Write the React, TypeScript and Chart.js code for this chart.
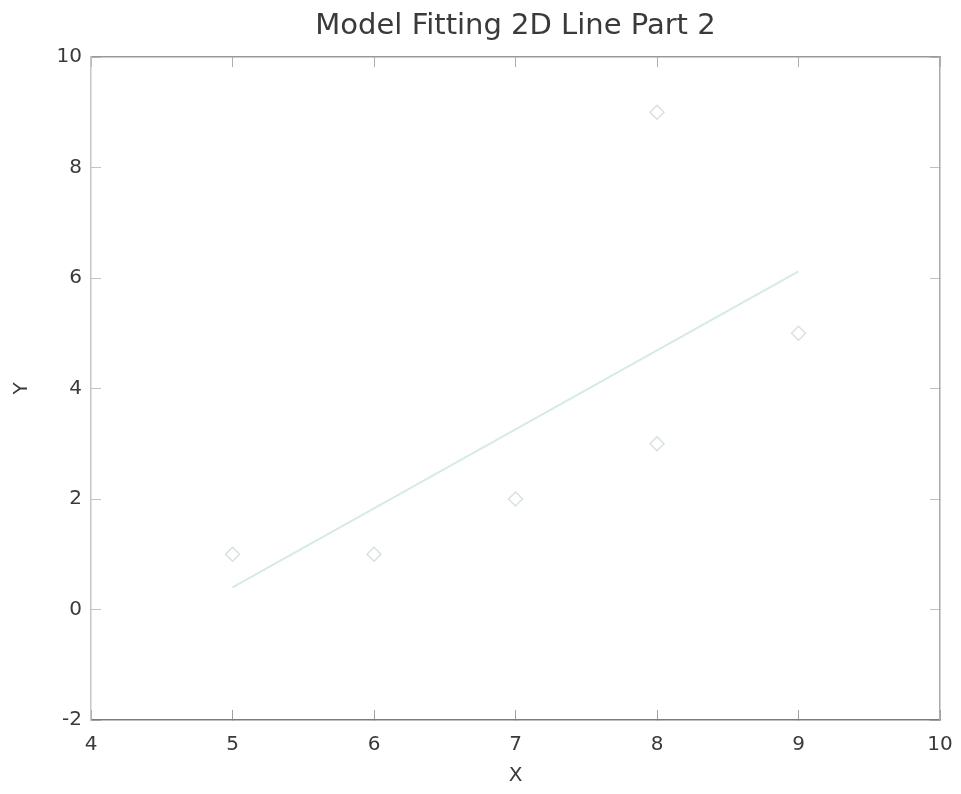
import React, { useEffect, useRef } from "react";
import { Chart, registerables } from "chart.js";

Chart.register(...registerables);

const chartTitle = "Model Fitting 2D Line Part 2";
const xLabel = "X";
const yLabel = "Y";

// observed data points
const pointX = [5, 6, 7, 8, 8, 9];
const pointY = [1, 1, 2, 3, 9, 5];

// fitted line end points
const fitX = [5, 9];
const fitY = [0.4, 6.12];

// axis ranges
const xMin = 4;
const xMax = 10;
const xStep = 1;
const yMin = -2;
const yMax = 10;
const yStep = 2;

const FONT = "'DejaVu Sans', 'Liberation Sans', Arial, sans-serif";
const TEXT = "#3a3a3a";

export default function App() {
  const ref = useRef<HTMLCanvasElement | null>(null);

  useEffect(() => {
    if (!ref.current) return;
    const points = pointX.map((x, i) => ({ x, y: pointY[i] }));
    const fit = fitX.map((x, i) => ({ x, y: fitY[i] }));
    const tl = -10;
    const noPad = (s: any) => {
      s.paddingLeft = 0;
      s.paddingRight = 0;
      s.paddingTop = 0;
      s.paddingBottom = 0;
    };
    const chart = new Chart(ref.current, {
      type: "scatter",
      data: {
        datasets: [
          {
            label: "fit",
            type: "line",
            data: fit,
            borderColor: "#d6ebe7",
            borderWidth: 2,
            pointRadius: 0,
            fill: false,
            xAxisID: "x",
            yAxisID: "y",
          },
          {
            label: "data",
            data: points,
            pointStyle: "rectRot",
            pointRadius: 7,
            borderWidth: 1.5,
            borderColor: "#d6e2e2",
            backgroundColor: "rgba(255,255,255,0)",
            xAxisID: "x",
            yAxisID: "y",
          },
        ],
      },
      options: {
        responsive: false,
        animation: false,
        layout: { padding: { left: 0, right: 21, top: 0, bottom: 0 } },
        plugins: {
          legend: { display: false },
          tooltip: { enabled: false },
          title: {
            display: true,
            fullSize: false,
            text: chartTitle,
            color: TEXT,
            font: { family: FONT, size: 29, weight: "normal", lineHeight: 1.2 },
            padding: { top: 9, bottom: 13.2 },
          },
        },
        scales: {
          x: {
            type: "linear",
            position: "bottom",
            min: xMin,
            max: xMax,
            afterFit: (s: any) => {
              s.height = 74;
              noPad(s);
            },
            ticks: {
              stepSize: xStep,
              color: TEXT,
              padding: 23,
              font: { family: FONT, size: 20 },
              maxRotation: 0,
            },
            grid: {
              drawOnChartArea: false,
              tickLength: tl,
              color: "#a0a0a0",
            },
            border: { display: true, color: "#7c7c7c", width: 1.5 },
            title: {
              display: true,
              text: xLabel,
              color: TEXT,
              font: { family: FONT, size: 20, lineHeight: 1.2 },
              padding: { top: 0, bottom: 6 },
            },
          },
          x2: {
            type: "linear",
            position: "top",
            min: xMin,
            max: xMax,
            afterFit: (s: any) => {
              s.height = 0;
              noPad(s);
            },
            ticks: { stepSize: xStep, display: false },
            grid: {
              drawOnChartArea: false,
              tickLength: tl,
              color: "#b0b0b0",
            },
            border: { display: true, color: "#999999", width: 1.5 },
          },
          y: {
            type: "linear",
            position: "left",
            min: yMin,
            max: yMax,
            afterFit: (s: any) => {
              s.width = 91;
              noPad(s);
            },
            ticks: {
              stepSize: yStep,
              color: TEXT,
              padding: 19,
              font: { family: FONT, size: 20 },
            },
            grid: {
              drawOnChartArea: false,
              tickLength: tl,
              color: "#c4c4c4",
            },
            border: { display: true, color: "#c6c6c6", width: 1.5 },
            title: {
              display: true,
              text: yLabel,
              color: TEXT,
              font: { family: FONT, size: 20, lineHeight: 1.2 },
              padding: { top: 10, bottom: 0 },
            },
          },
          y2: {
            type: "linear",
            position: "right",
            min: yMin,
            max: yMax,
            afterFit: (s: any) => {
              s.width = 0;
              noPad(s);
            },
            ticks: { stepSize: yStep, display: false },
            grid: {
              drawOnChartArea: false,
              tickLength: tl,
              color: "#c0c0c0",
            },
            border: { display: true, color: "#aaaaaa", width: 1.5 },
          },
        },
      },
    } as any);
    return () => chart.destroy();
  }, []);

  return (
    <div style={{ position: "fixed", left: 0, top: 0, width: 961, height: 794, background: "#fff" }}>
      <canvas ref={ref} width={961} height={794} style={{ display: "block" }} />
    </div>
  );
}
